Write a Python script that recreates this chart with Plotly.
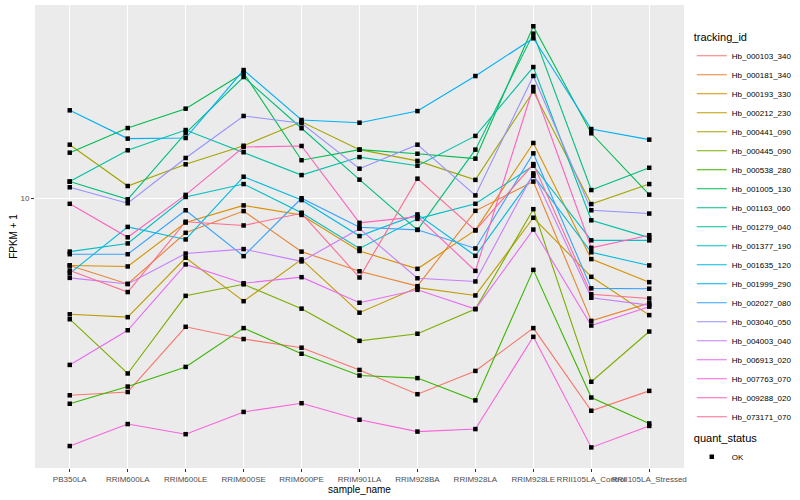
import plotly.graph_objects as go

samples = ["PB350LA", "RRIM600LA", "RRIM600LE", "RRIM600SE", "RRIM600PE", "RRIM901LA",
           "RRIM928BA", "RRIM928LA", "RRIM928LE", "RRII105LA_Control", "RRII105LA_Stressed"]

tracking_ids = ["Hb_000103_340", "Hb_000181_340", "Hb_000193_330", "Hb_000212_230", "Hb_000441_090",
                "Hb_000445_090", "Hb_000538_280", "Hb_001005_130", "Hb_001163_060", "Hb_001279_040",
                "Hb_001377_190", "Hb_001635_120", "Hb_001999_290", "Hb_002027_080", "Hb_003040_050",
                "Hb_004003_040", "Hb_006913_020", "Hb_007763_070", "Hb_009288_020", "Hb_073171_070"]

colors = ["#F8766D", "#EA8331", "#D89000", "#C09B00", "#A3A500", "#7CAE00", "#39B600", "#00BB4E",
          "#00BF7D", "#00C1A3", "#00BFC4", "#00BAE0", "#00B0F6", "#35A2FF", "#9590FF", "#C77CFF",
          "#E76BF3", "#FA62DB", "#FF62BC", "#FF6C91"]

# FPKM + 1 values per tracking_id
hb_000103_340 = [4.69, 4.75, 6.10, 5.82, 5.63, 5.17, 4.71, 5.15, 6.07, 4.42, 4.77]
hb_000181_340 = [7.72, 7.19, 8.75, 9.51, 8.14, 7.55, 7.13, 9.52, 10.65, 6.24, 6.68]
hb_000193_330 = [7.72, 7.69, 9.10, 9.72, 9.37, 8.16, 7.62, 8.84, 12.35, 7.91, 7.24]
hb_000212_230 = [6.40, 6.33, 7.95, 6.73, 7.90, 6.44, 7.09, 6.88, 9.27, 7.39, 6.38]
hb_000441_090 = [12.27, 10.47, 11.38, 12.22, 13.40, 12.04, 11.53, 10.72, 15.06, 9.77, 10.55]
hb_000445_090 = [6.28, 5.10, 6.87, 7.18, 6.54, 5.78, 5.94, 6.53, 9.58, 4.94, 5.99]
hb_000538_280 = [4.54, 4.85, 5.23, 6.07, 5.50, 5.06, 5.01, 4.60, 7.59, 4.65, 4.21]
hb_001005_130 = [11.90, 13.08, 14.09, 16.16, 11.56, 12.04, 11.85, 11.63, 19.33, 12.82, 10.13]
hb_001163_060 = [10.65, 9.95, 12.83, 15.91, 13.07, 10.73, 8.85, 12.04, 18.79, 10.31, 11.23]
hb_001279_040 = [10.65, 12.01, 12.98, 11.92, 10.92, 11.70, 11.32, 12.69, 16.53, 9.18, 8.59]
hb_001377_190 = [8.14, 8.40, 10.04, 10.55, 9.45, 8.24, 9.23, 9.78, 11.32, 8.50, 8.50]
hb_001635_120 = [7.49, 8.95, 8.53, 10.85, 9.92, 8.64, 9.39, 8.01, 10.89, 8.12, 7.72]
hb_001999_290 = [14.00, 12.56, 12.59, 16.34, 13.49, 13.35, 13.96, 15.97, 18.46, 13.03, 12.51]
hb_002027_080 = [8.06, 8.06, 9.54, 8.00, 9.99, 8.94, 8.85, 8.24, 11.87, 7.07, 7.06]
hb_003040_050 = [10.42, 9.80, 11.66, 13.70, 13.32, 11.19, 12.27, 10.10, 15.97, 9.54, 9.42]
hb_004003_040 = [7.36, 7.19, 8.08, 8.22, 7.84, 8.89, 7.35, 7.26, 10.99, 6.82, 6.63]
hb_006913_020 = [5.27, 6.02, 7.75, 7.21, 7.38, 6.69, 7.03, 6.53, 8.86, 6.13, 6.59]
hb_007763_070 = [3.86, 4.20, 4.04, 4.40, 4.55, 4.27, 4.08, 4.12, 5.87, 3.84, 4.17]
hb_009288_020 = [9.78, 8.60, 10.12, 12.16, 12.21, 9.09, 9.31, 7.56, 15.31, 8.26, 8.67]
hb_073171_070 = [7.57, 6.97, 9.13, 9.00, 9.43, 7.37, 10.77, 8.83, 11.39, 6.91, 6.80]

series = [hb_000103_340, hb_000181_340, hb_000193_330, hb_000212_230, hb_000441_090,
          hb_000445_090, hb_000538_280, hb_001005_130, hb_001163_060, hb_001279_040,
          hb_001377_190, hb_001635_120, hb_001999_290, hb_002027_080, hb_003040_050,
          hb_004003_040, hb_006913_020, hb_007763_070, hb_009288_020, hb_073171_070]

y_ticks = [10]
y_tick_labels = ["10"]

FONT = "Liberation Sans, Arial, Helvetica, sans-serif"

fig = go.Figure()
for tid, vals, col in zip(tracking_ids, series, colors):
    fig.add_trace(go.Scatter(x=samples, y=vals, mode="lines", name=tid,
                             line=dict(color=col, width=1.1), legend="legend",
                             hoverinfo="skip"))

pts_x = [s for vals in series for s in samples]
pts_y = [v for vals in series for v in vals]
fig.add_trace(go.Scatter(x=pts_x, y=pts_y, mode="markers", name="OK",
                         marker=dict(symbol="square", size=4.5, color="black"),
                         legend="legend2", hoverinfo="skip"))

fig.update_layout(
    width=800, height=500,
    margin=dict(l=35, r=116, t=5, b=32, autoexpand=False),
    paper_bgcolor="white", plot_bgcolor="#EBEBEB",
    font=dict(family=FONT, size=10, color="black"),
    hovermode=False,
    xaxis=dict(type="category", range=[-0.6, 10.6], showgrid=True, gridcolor="white",
               gridwidth=1.1, zeroline=False, ticks="outside", ticklen=3, tickcolor="#333333",
               tickangle=0, automargin=False,
               tickfont=dict(size=8, color="#4D4D4D", family=FONT),
               title=dict(text="sample_name", font=dict(size=10, family=FONT), standoff=2),
               showline=False),
    yaxis=dict(type="log", range=[0.55, 1.32167], tickvals=y_ticks, ticktext=y_tick_labels,
               showgrid=True, gridcolor="white", gridwidth=1.1, zeroline=False,
               ticks="outside", ticklen=3, tickcolor="#333333", automargin=False,
               tickfont=dict(size=8, color="#4D4D4D", family=FONT),
               title=dict(text="FPKM + 1", font=dict(size=10, family=FONT), standoff=0),
               showline=False),
    legend=dict(title=dict(text="tracking_id", font=dict(size=11, family=FONT)),
                font=dict(size=8, family=FONT), x=1.012, xanchor="left", y=0.9525, yanchor="top",
                bgcolor="rgba(0,0,0,0)", itemwidth=30, tracegroupgap=0),
    legend2=dict(title=dict(text="quant_status", font=dict(size=11, family=FONT)),
                 font=dict(size=8, family=FONT), x=1.012, xanchor="left", y=0.0864, yanchor="top",
                 bgcolor="rgba(0,0,0,0)", itemwidth=30),
    showlegend=True,
)

fig.write_html("out.html", config={"displayModeBar": False},
               post_script="document.body.style.margin='0px';")
